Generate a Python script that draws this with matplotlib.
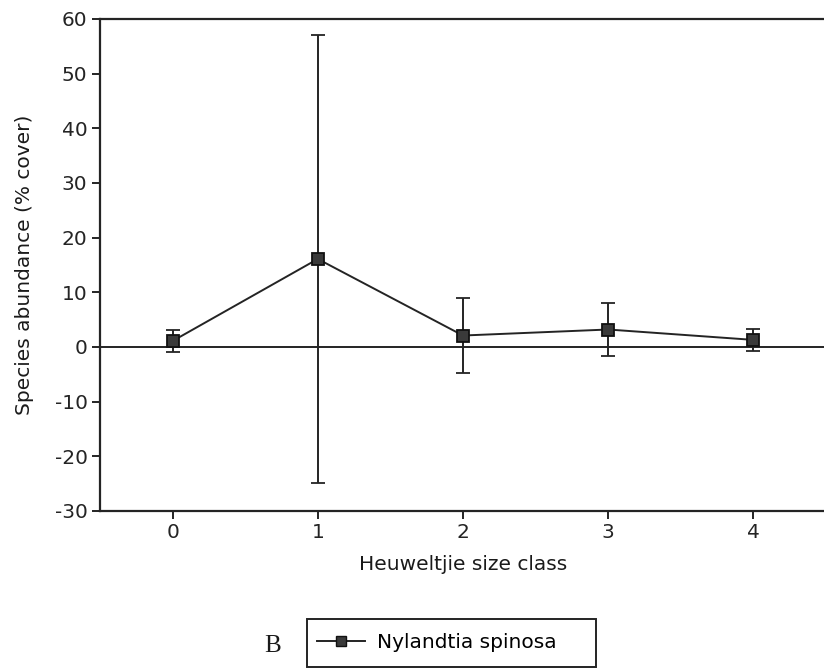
import numpy as np
import matplotlib.pyplot as plt
from matplotlib.lines import Line2D
from matplotlib.patches import Rectangle

size_class = [0, 1, 2, 3, 4]
abundance = [1.1, 16.1, 2.1, 3.2, 1.3]
abundance_err = [2.1, 41.0, 6.9, 4.9, 2.0]
y_ticks = [-30, -20, -10, 0, 10, 20, 30, 40, 50, 60]
species = 'Nylandtia spinosa'
panel = 'B'

plt.rcParams['font.family'] = ['DejaVu Sans']
plt.rcParams['axes.unicode_minus'] = False
dark = '#242424'
fs = 14.5

fig = plt.figure(figsize=(8.24, 6.68), dpi=100)
ax = fig.add_axes([100 / 824, 157 / 668, 726 / 824, 492 / 668])

ax.axhline(0, color=dark, lw=1.4, zorder=1)
ax.errorbar(size_class, abundance, yerr=abundance_err, color=dark, lw=1.4,
            elinewidth=1.4, capsize=5, capthick=1.4,
            marker='s', markersize=8, mfc='#3a3a3a', mec='#111111', mew=1.3,
            zorder=3)

ax.set_xlim(-0.5, 4.5)
ax.set_ylim(-30, 60)
ax.set_xticks(size_class)
ax.set_yticks(y_ticks)
ax.tick_params(labelsize=fs, colors=dark, length=6, width=1.4, direction='out', pad=3)
for s in ['left', 'bottom', 'top']:
    ax.spines[s].set_color(dark)
    ax.spines[s].set_linewidth(1.6)
ax.spines['right'].set_visible(False)

ax.set_xlabel('Heuweltjie size class', fontsize=fs, color='#1a1a1a', labelpad=9)
ax.set_ylabel('Species abundance (% cover)', fontsize=fs, color='#1a1a1a', labelpad=15)

# legend box drawn in figure coordinates
fig.patches.append(Rectangle((307 / 824, 1 / 668), 289 / 824, 48 / 668,
                             transform=fig.transFigure, fill=False,
                             edgecolor=dark, lw=1.4))
handle = Line2D([], [], color=dark, lw=1.4, marker='s', markersize=7,
                mfc='#3a3a3a', mec='#111111')
fig.legend([handle], [species], loc='center left', bbox_to_anchor=(307 / 824, 25 / 668),
           fontsize=fs, frameon=False, handlelength=2.4, borderpad=0.5,
           borderaxespad=0, handletextpad=0.6)

fig.text(273 / 824, (668 - 646) / 668, panel, fontsize=18, family='Liberation Serif',
         ha='center', va='center', color='#1a1a1a')

fig.savefig('out.png', dpi=100)
